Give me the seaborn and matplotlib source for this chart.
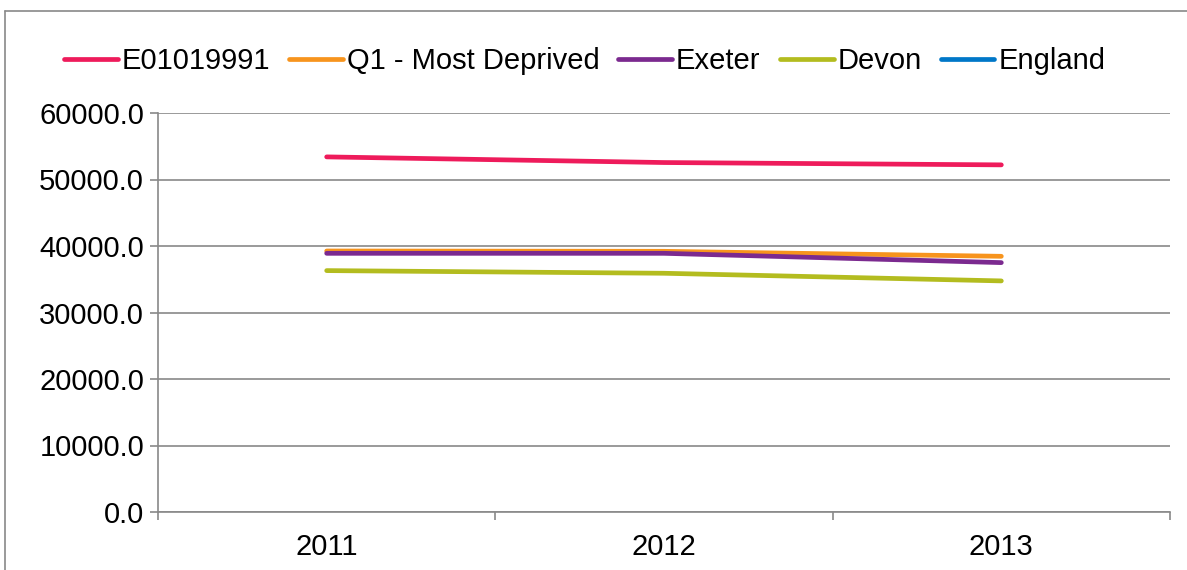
import numpy as np
import pandas as pd
import matplotlib
matplotlib.use("Agg")
import matplotlib.pyplot as plt
from matplotlib.lines import Line2D
import seaborn as sns

years = ["2011", "2012", "2013"]
series_names = ["E01019991", "Q1 - Most Deprived", "Exeter", "Devon", "England"]
e01019991 = [53400, 52550, 52200]
q1_most_deprived = [39250, 39200, 38450]
exeter = [38900, 38900, 37500]
devon = [36300, 35900, 34750]
england = [np.nan, np.nan, np.nan]
colors = ["#EE1B5B", "#F7941D", "#7B2A8F", "#B3BC1F", "#0077C8"]
y_ticks = [0, 10000, 20000, 30000, 40000, 50000, 60000]

values = [e01019991, q1_most_deprived, exeter, devon, england]
rows = []
for name, vals in zip(series_names, values):
    for i, (yr, v) in enumerate(zip(years, vals)):
        rows.append({"series": name, "pos": i, "year": yr, "value": v})
df = pd.DataFrame(rows)

sns.set_style("white")
plt.rcParams["font.family"] = ["Liberation Sans", "DejaVu Sans"]
plt.rcParams["text.color"] = "black"
plt.rcParams["xtick.color"] = "black"
plt.rcParams["ytick.color"] = "black"

FS = 21
LFS = 21
fig = plt.figure(figsize=(11.87, 5.70), dpi=100)
ax = fig.add_axes([158 / 1187, 1 - 512 / 570, (1170 - 158) / 1187, (512 - 113) / 570])

palette = dict(zip(series_names, colors))
plot_df = df.dropna(subset=["value"])
sns.lineplot(data=plot_df, x="pos", y="value", hue="series", hue_order=series_names,
             palette=palette, linewidth=3.4, ax=ax, legend=False, zorder=3,
             solid_capstyle="round")

grid_c = "#898989"
ax.set_ylim(0, 60000)
ax.set_xlim(-0.5, len(years) - 0.5)
ax.set_yticks(y_ticks)
ax.set_yticklabels([f"{v:.1f}" for v in y_ticks], fontsize=FS)
ax.set_xticks(range(len(years)))
ax.set_xticklabels(years, fontsize=FS)
ax.set_xticks(np.arange(-0.5, len(years), 1.0), minor=True)
ax.tick_params(axis="x", which="both", bottom=True)
ax.tick_params(axis="y", which="both", left=True)
ax.tick_params(axis="x", which="major", length=0, pad=15, labelcolor="black")
ax.tick_params(axis="x", which="minor", length=6, width=1.2, color=grid_c, direction="out")
ax.tick_params(axis="y", length=6, width=1.2, color=grid_c, direction="out", pad=4,
               labelcolor="black")
ax.yaxis.grid(True, color=grid_c, linewidth=1.2)
ax.xaxis.grid(False)
ax.set_axisbelow(True)
for s in ["top", "right"]:
    ax.spines[s].set_visible(False)
for s in ["left", "bottom"]:
    ax.spines[s].set_color(grid_c)
    ax.spines[s].set_linewidth(1.2)
ax.set_xlabel("")
ax.set_ylabel("")

handles = [Line2D([0], [0], color=c, linewidth=3.4, solid_capstyle="round") for c in colors]
fig.legend(handles, series_names, loc="center", bbox_to_anchor=(584.5 / 1187, 1 - 61 / 570),
           ncol=5, frameon=False, fontsize=LFS, handlelength=1.85, handletextpad=0.13,
           columnspacing=0.65, borderaxespad=0, labelcolor="black")

# outer chart border (top and left visible)
fig.add_artist(Line2D([5 / 1187, 5 / 1187], [0, 1 - 11 / 570], color=grid_c, linewidth=1.2,
                      transform=fig.transFigure))
fig.add_artist(Line2D([5 / 1187, 1], [1 - 11 / 570, 1 - 11 / 570], color=grid_c, linewidth=1.2,
                      transform=fig.transFigure))

fig.savefig("out.png", dpi=100)
